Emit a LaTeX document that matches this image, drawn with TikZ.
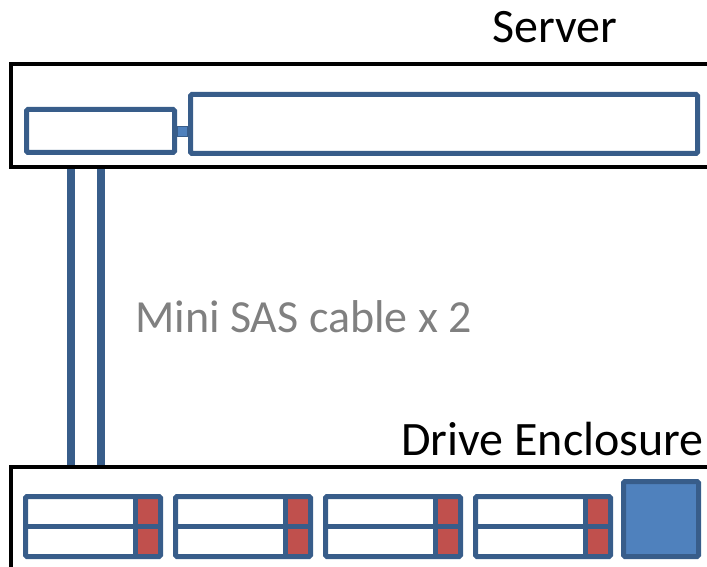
\documentclass[tikz,border=0pt]{standalone}
\usepackage{fontspec}
\setmainfont{Carlito}
\usepackage{xcolor}
\usepackage{tikz}
\usetikzlibrary{positioning, calc}

\definecolor{cardline}{HTML}{385D8A}
\definecolor{cardfill}{HTML}{4F81BD}
\definecolor{ledred}{HTML}{C0504D}
\definecolor{labelgray}{HTML}{808080}

\begin{document}
\begin{tikzpicture}[x=1pt, y=-1pt,
        chassis/.style={rectangle, draw=black, line width=4pt, inner sep=0pt},
        card/.style={rectangle, draw=cardline, line width=5pt, rounded corners=1.5pt, inner sep=0pt},
        drive/.style={card, minimum width=135pt, minimum height=60pt,
            path picture={
                \fill[ledred] ([xshift=-25pt]path picture bounding box.north east) rectangle (path picture bounding box.south east);
                \draw[cardline, line width=5pt] ([xshift=-25pt]path picture bounding box.north east) -- ([xshift=-25pt]path picture bounding box.south east);
                \draw[cardline, line width=5pt] (path picture bounding box.west) -- (path picture bounding box.east);
            }},
        cable/.style={cardline, line width=8.5pt},
        title/.style={font=\fontsize{48}{52}\selectfont, inner sep=0pt, anchor=base west}]

        \useasboundingbox (0,0) rectangle (707,567);
        \clip (0,0) rectangle (707,567);

        % Server
        \node[chassis, minimum width=719pt, minimum height=103.5pt] (srv) at (370.5,115.75) {};
        \node[title] (srvname) at (492,43) {Server};
        \node[card, minimum width=148pt, minimum height=43pt] (hba) at (100.5,131) {};
        \node[card, minimum width=507pt, minimum height=59pt] (board) at (444,124) {};
        \node[rectangle, fill=cardfill, draw=cardline, line width=1.5pt, minimum size=10pt, inner sep=0pt] (slot) at (182.5,131.5) {};

        % Drive enclosure
        \node[chassis, minimum width=719pt, minimum height=133pt] (encl) at (370.5,533.5) {};
        \node[title] (enclname) at (401,455) {Drive Enclosure};

        \node[drive] (d1) at (93,526.5) {};
        \node[drive, right=10pt of d1] (d2) {};
        \node[drive, right=10pt of d2] (d3) {};
        \node[drive, right=10pt of d3] (d4) {};
        \node[card, fill=cardfill, minimum size=75pt] (ctrl) at (661,519) {};

        % Cables
        \coordinate (c1) at (71,300);
        \coordinate (c2) at (101,300);
        \draw[cable] (c1 |- srv.south) -- (c1 |- encl.north);
        \draw[cable] (c2 |- srv.south) -- (c2 |- encl.north);
        \node[title, font=\fontsize{46}{50}\selectfont, text=labelgray] (cablename) at (135,332) {Mini SAS cable x 2};
      \end{tikzpicture}
\end{document}
